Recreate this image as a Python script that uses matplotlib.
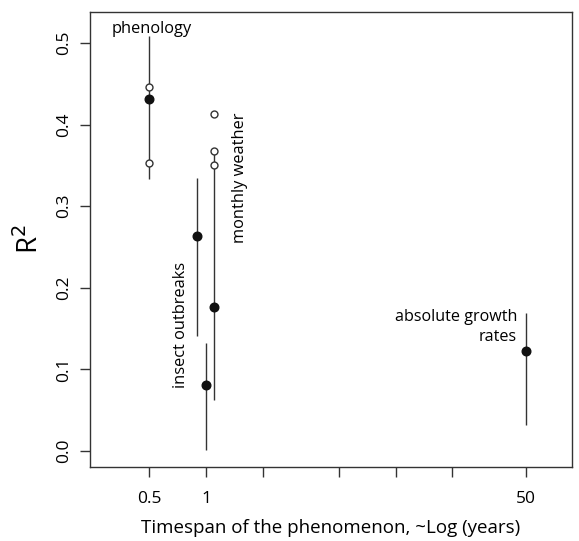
import matplotlib
matplotlib.use("Agg")
import matplotlib.pyplot as plt

# Data (x in axis position units; tick labels map to ~log timespan)
xtick_pos = [0, 1, 2, 3.32, 4.32, 5.31, 6.61]
xtick_labels = ["0.5", "1", "", "", "", "", "50"]
ytick_vals = [0.0, 0.1, 0.2, 0.3, 0.4, 0.5]

pt_x = [0.0, 0.84, 1.0, 1.14, 6.61]
pt_y = [0.431, 0.263, 0.081, 0.177, 0.122]
lo_y = [0.333, 0.141, 0.001, 0.0625, 0.032]
hi_y = [0.509, 0.334, 0.132, 0.365, 0.169]

open_x = [0.0, 0.0, 1.14, 1.14, 1.14]
open_y = [0.446, 0.353, 0.413, 0.368, 0.351]

plt.rcParams['font.family'] = ['Open Sans', 'DejaVu Sans']

fig = plt.figure(figsize=(5.79, 5.41), dpi=100)
ax = fig.add_axes([0.1554, 0.1368, 0.8325, 0.841])

ax.vlines(pt_x, lo_y, hi_y, colors="#333333", linewidth=1.0, zorder=2)
ax.plot(open_x, open_y, linestyle="none", marker="o", markersize=5,
        markerfacecolor="white", markeredgecolor="#333333", markeredgewidth=1.0, zorder=3)
ax.plot(pt_x, pt_y, linestyle="none", marker="o", markersize=6.2,
        color="#111111", zorder=4)

ax.set_xlim(-1.04, 7.41)
ax.set_ylim(-0.0196, 0.538)

ax.set_xticks(xtick_pos)
ax.set_xticklabels(xtick_labels, fontsize=12.5)
ax.set_yticks(ytick_vals)
ax.set_yticklabels([f"{v:.1f}" for v in ytick_vals], fontsize=12.5, rotation=90, va="center")
ax.tick_params(direction="out", length=7, width=1.0, color="#333333", pad=6)
ax.tick_params(axis="x", pad=10)
for s in ax.spines.values():
    s.set_color("#333333")
    s.set_linewidth(1.0)

ax.set_xlabel("Timespan of the phenomenon, ~Log (years)", fontsize=13.5, labelpad=9)
ax.set_ylabel("R$^2$", fontsize=20, labelpad=8)

ax.text(0.05, 0.507, "phenology", ha="center", va="bottom", fontsize=11.8)
ax.text(1.59, 0.415, "monthly weather", ha="center", va="top", rotation=90, fontsize=11.8)
ax.text(0.556, 0.232, "insect outbreaks", ha="center", va="top", rotation=90, fontsize=11.8)
ax.text(6.45, 0.152, "absolute growth\nrates", ha="right", va="center", fontsize=11.6,
        multialignment="right", linespacing=1.4)

fig.savefig("out.png", dpi=100)
